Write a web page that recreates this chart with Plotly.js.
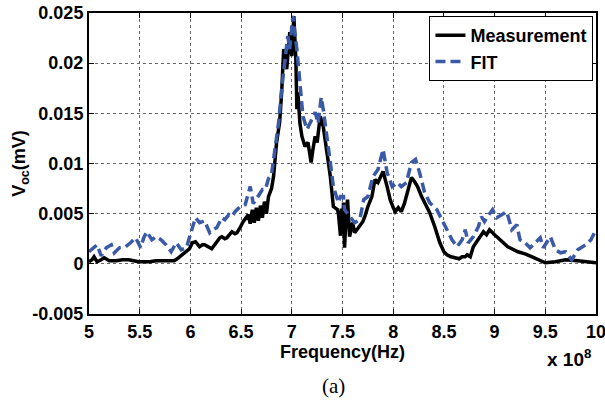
<!DOCTYPE html>
<html>
<head>
<meta charset="utf-8">
<script src="https://cdn.plot.ly/plotly-3.0.1.min.js"></script>
<style>html,body{margin:0;padding:0;background:#fff;}#chart{width:605px;height:402px;}</style>
</head>
<body>
<div id="chart"></div>
<script>
// Frequencies in units of 10^8 Hz
const measFreq = [5.00,5.03,5.05,5.08,5.12,5.15,5.20,5.27,5.33,5.39,5.44,5.49,5.55,5.60,5.66,5.72,5.79,5.84,5.87,5.92,5.95,5.99,6.02,6.05,6.09,6.12,6.14,6.18,6.21,6.24,6.26,6.29,6.31,6.34,6.36,6.39,6.41,6.44,6.46,6.49,6.52,6.55,6.57,6.59,6.61,6.63,6.65,6.67,6.69,6.71,6.73,6.75,6.77,6.80,6.82,6.85,6.88,6.90,6.92,6.95,6.98,7.00,7.02,7.04,7.05,7.06,7.08,7.10,7.13,7.16,7.19,7.21,7.23,7.25,7.28,7.31,7.35,7.38,7.41,7.45,7.46,7.48,7.49,7.50,7.51,7.52,7.54,7.55,7.57,7.60,7.62,7.64,7.67,7.70,7.72,7.75,7.79,7.82,7.85,7.88,7.90,7.94,7.97,8.00,8.02,8.05,8.08,8.11,8.13,8.16,8.18,8.21,8.24,8.28,8.31,8.36,8.41,8.46,8.50,8.53,8.57,8.61,8.65,8.68,8.71,8.73,8.76,8.79,8.84,8.89,8.92,8.95,9.00,9.07,9.13,9.23,9.30,9.37,9.45,9.50,9.60,9.70,9.82,9.90,10.00];
const measVoc = [0.0002,0.0004,0.0007,0.0002,0.0004,0.0006,0.0003,0.0003,0.0004,0.0004,0.0003,0.0002,0.0002,0.0002,0.0003,0.0003,0.0003,0.0003,0.0005,0.0009,0.0011,0.0015,0.0021,0.0022,0.0017,0.0019,0.0019,0.0017,0.0015,0.0019,0.0022,0.0026,0.0027,0.0025,0.0026,0.0030,0.0032,0.0030,0.0031,0.0036,0.0042,0.0046,0.0049,0.0040,0.0054,0.0041,0.0056,0.0043,0.0058,0.0046,0.0062,0.0050,0.0067,0.0075,0.0087,0.0121,0.0141,0.0171,0.0214,0.0194,0.0231,0.0207,0.0247,0.0204,0.0154,0.0171,0.0140,0.0127,0.0117,0.0121,0.0101,0.0115,0.0127,0.0121,0.0147,0.0137,0.0111,0.0087,0.0057,0.0054,0.0050,0.0028,0.0055,0.0030,0.0061,0.0016,0.0055,0.0064,0.0027,0.0041,0.0031,0.0034,0.0037,0.0042,0.0047,0.0057,0.0067,0.0084,0.0081,0.0089,0.0092,0.0077,0.0064,0.0056,0.0052,0.0056,0.0052,0.0060,0.0067,0.0078,0.0086,0.0082,0.0077,0.0067,0.0061,0.0051,0.0037,0.0021,0.0012,0.0009,0.0007,0.0006,0.0005,0.0007,0.0007,0.0009,0.0007,0.0017,0.0024,0.0032,0.0029,0.0034,0.0029,0.0022,0.0017,0.0012,0.0010,0.0007,0.0003,0.0001,0.0002,0.0004,0.0003,0.0002,0.0001];

const fitFreq = [5.00,5.05,5.08,5.12,5.17,5.22,5.25,5.30,5.36,5.41,5.46,5.51,5.54,5.57,5.62,5.66,5.71,5.76,5.81,5.86,5.91,5.96,6.00,6.03,6.05,6.09,6.14,6.19,6.22,6.26,6.31,6.34,6.38,6.41,6.44,6.49,6.54,6.59,6.62,6.66,6.71,6.74,6.77,6.80,6.83,6.87,6.90,6.93,6.96,6.98,7.01,7.05,7.08,7.11,7.15,7.20,7.23,7.26,7.29,7.31,7.35,7.38,7.41,7.46,7.48,7.51,7.52,7.57,7.62,7.67,7.71,7.75,7.80,7.85,7.90,7.94,7.99,8.04,8.08,8.13,8.18,8.22,8.26,8.31,8.36,8.43,8.48,8.53,8.58,8.63,8.68,8.71,8.74,8.79,8.84,8.87,8.90,8.93,8.98,9.02,9.07,9.12,9.17,9.22,9.25,9.30,9.35,9.40,9.45,9.48,9.55,9.60,9.65,9.70,9.76,9.82,9.90,9.95,10.00];
const fitVoc = [0.0012,0.0016,0.0019,0.0008,0.0016,0.0019,0.0011,0.0016,0.0017,0.0021,0.0026,0.0016,0.0026,0.0032,0.0024,0.0027,0.0024,0.0019,0.0012,0.0021,0.0014,0.0016,0.0030,0.0038,0.0046,0.0041,0.0043,0.0031,0.0034,0.0036,0.0046,0.0044,0.0049,0.0047,0.0052,0.0057,0.0059,0.0077,0.0060,0.0066,0.0074,0.0074,0.0085,0.0089,0.0114,0.0141,0.0174,0.0204,0.0227,0.0214,0.0247,0.0214,0.0177,0.0147,0.0134,0.0144,0.0151,0.0140,0.0166,0.0154,0.0127,0.0101,0.0077,0.0061,0.0067,0.0067,0.0054,0.0047,0.0041,0.0044,0.0064,0.0067,0.0087,0.0094,0.0114,0.0091,0.0077,0.0081,0.0077,0.0081,0.0101,0.0104,0.0091,0.0071,0.0061,0.0054,0.0044,0.0034,0.0024,0.0017,0.0024,0.0034,0.0021,0.0027,0.0037,0.0047,0.0042,0.0047,0.0054,0.0046,0.0049,0.0052,0.0034,0.0039,0.0024,0.0021,0.0016,0.0021,0.0026,0.0016,0.0027,0.0014,0.0011,0.0012,0.0004,0.0014,0.0019,0.0024,0.0034];

const xTickVals = [5,5.5,6,6.5,7,7.5,8,8.5,9,9.5,10];
const xTickText = ["5","5.5","6","6.5","7","7.5","8","8.5","9","9.5","10"];
const yTickVals = [-0.005,0,0.005,0.01,0.015,0.02,0.025];
const yTickText = ["-0.005","0","0.005","0.01","0.015","0.02","0.025"];

const FONT = "Liberation Sans, Arial, sans-serif";
const bold = arr => arr.map(s => '<b>' + s + '</b>');

const traces = [
  {x: measFreq, y: measVoc, type: 'scatter', mode: 'lines', name: '<b>Measurement</b>',
   line: {color: '#000000', width: 3.5}},
  {x: fitFreq, y: fitVoc, type: 'scatter', mode: 'lines', name: '<b>FIT</b>',
   line: {color: '#3a5aa8', width: 3.5, dash: '10px,5px'}}
];

const axisCommon = {
  showline: true, linecolor: '#000', linewidth: 2, mirror: 'ticks',
  ticks: 'inside', ticklen: 5, tickcolor: '#000', tickwidth: 1,
  showgrid: true, gridcolor: '#666', gridwidth: 1, griddash: 'dot',
  zeroline: false, ticklabeloverflow: 'allow',
  tickfont: {family: FONT, size: 18, color: '#000'}
};

const layout = {
  width: 605, height: 402,
  margin: {l: 89, r: 9, t: 13, b: 88},
  paper_bgcolor: '#fff', plot_bgcolor: '#fff',
  showlegend: true,
  legend: {x: 0.995, xanchor: 'right', y: 0.99, yanchor: 'top',
    bgcolor: '#fff', bordercolor: '#000', borderwidth: 1,
    font: {family: FONT, size: 18, color: '#000'},
    itemwidth: 30, tracegroupgap: 0},
  xaxis: Object.assign({}, axisCommon, {
    range: [5, 10], tickmode: 'array', tickvals: xTickVals, ticktext: bold(xTickText),
    title: {text: '<b>Frequency(Hz)</b>', font: {family: FONT, size: 18, color: '#000'}, standoff: 0}
  }),
  yaxis: Object.assign({}, axisCommon, {
    range: [-0.005, 0.025], tickmode: 'array', tickvals: yTickVals, ticktext: bold(yTickText),
    title: {text: '<b>V<sub>oc</sub>(mV)</b>', font: {family: FONT, size: 18, color: '#000'}, standoff: 2}
  }),
  annotations: [
    {xref: 'paper', yref: 'paper', x: 1, y: 0, xanchor: 'right', yanchor: 'top', yshift: -30, xshift: -3,
     text: '<b>x 10<sup>8</sup></b>', showarrow: false, font: {family: FONT, size: 19, color: '#000'}},
    {xref: 'paper', yref: 'paper', x: 0.483, y: 0, xanchor: 'center', yanchor: 'top', yshift: -58,
     text: '(a)', showarrow: false, font: {family: 'Liberation Serif, Times New Roman, serif', size: 21, color: '#000'}}
  ]
};

Plotly.newPlot('chart', traces, layout, {displayModeBar: false, staticPlot: true});
</script>
</body>
</html>
